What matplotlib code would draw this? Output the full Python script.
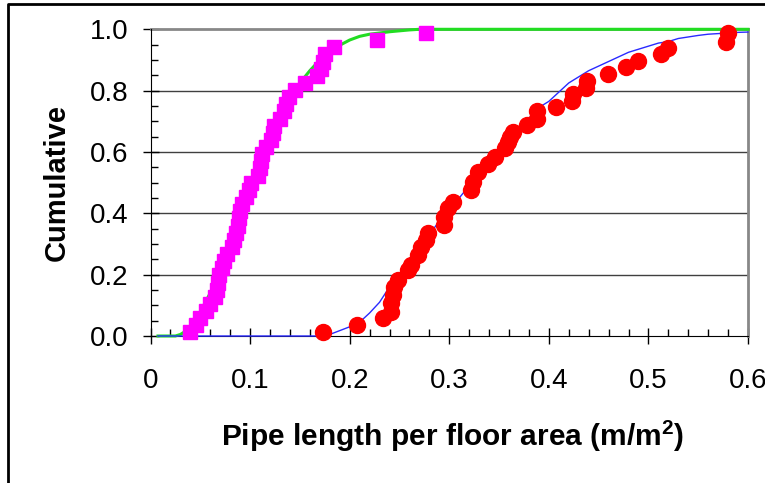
import numpy as np
import matplotlib.pyplot as plt
from matplotlib.lines import Line2D

plt.rcParams['font.family'] = ['Liberation Sans', 'DejaVu Sans']
plt.rcParams['mathtext.fontset'] = 'custom'
plt.rcParams['mathtext.rm'] = 'Liberation Sans'
plt.rcParams['mathtext.bf'] = 'Liberation Sans:bold'

# Magenta squares (first data set), cumulative rank
sq_x = [0.040, 0.046, 0.050, 0.056, 0.060, 0.065, 0.067, 0.068, 0.069, 0.072,
        0.074, 0.077, 0.082, 0.084, 0.086, 0.088, 0.089, 0.090, 0.092, 0.096,
        0.099, 0.101, 0.108, 0.110, 0.111, 0.112, 0.116, 0.121, 0.123, 0.124,
        0.130, 0.134, 0.136, 0.139, 0.145, 0.155, 0.167, 0.171, 0.173, 0.175,
        0.184, 0.227, 0.277]
sq_y = [0.012, 0.035, 0.058, 0.081, 0.105, 0.128, 0.151, 0.174, 0.198, 0.221,
        0.244, 0.267, 0.291, 0.314, 0.337, 0.360, 0.384, 0.407, 0.430, 0.453,
        0.477, 0.500, 0.523, 0.547, 0.570, 0.593, 0.616, 0.640, 0.663, 0.686,
        0.709, 0.733, 0.756, 0.779, 0.802, 0.826, 0.849, 0.872, 0.895, 0.919,
        0.942, 0.965, 0.988]

# Red circles (second data set)
ci_x = [0.173, 0.207, 0.2335, 0.242, 0.242, 0.2435, 0.245, 0.2485, 0.2586, 0.262,
        0.2686, 0.272, 0.277, 0.2787, 0.295, 0.295, 0.2987, 0.304, 0.322, 0.324,
        0.329, 0.339, 0.346, 0.356, 0.359, 0.361, 0.364, 0.378, 0.388, 0.388,
        0.407, 0.423, 0.424, 0.437, 0.438, 0.459, 0.477, 0.490, 0.513, 0.520,
        0.578, 0.580]
ci_y = [0.013, 0.036, 0.058, 0.079, 0.106, 0.134, 0.161, 0.182, 0.215, 0.231,
        0.264, 0.291, 0.313, 0.335, 0.362, 0.389, 0.416, 0.437, 0.475, 0.503,
        0.534, 0.560, 0.583, 0.612, 0.632, 0.648, 0.664, 0.687, 0.707, 0.733,
        0.746, 0.766, 0.790, 0.807, 0.830, 0.853, 0.876, 0.896, 0.920, 0.940,
        0.960, 0.987]

# Green fitted curve (for squares)
green_x = [0.0075, 0.025, 0.030, 0.035, 0.040, 0.045, 0.050, 0.055, 0.060, 0.065,
           0.070, 0.075, 0.080, 0.085, 0.090, 0.095, 0.100, 0.105, 0.110, 0.115,
           0.120, 0.125, 0.130, 0.135, 0.140, 0.150, 0.160, 0.170, 0.180, 0.190,
           0.200, 0.210, 0.220, 0.230, 0.240, 0.250, 0.260, 0.270, 0.600]
green_y = [0.0, 0.0, 0.005, 0.015, 0.030, 0.050, 0.075, 0.110, 0.140, 0.175,
           0.220, 0.260, 0.300, 0.345, 0.390, 0.435, 0.480, 0.520, 0.560, 0.600,
           0.640, 0.680, 0.710, 0.745, 0.775, 0.825, 0.865, 0.900, 0.925, 0.948,
           0.965, 0.977, 0.984, 0.988, 0.992, 0.995, 0.998, 1.0, 1.0]

# Blue fitted curve (for circles)
blue_x = [0.0075, 0.170, 0.180, 0.200, 0.210, 0.220, 0.230, 0.240, 0.250, 0.260,
          0.270, 0.280, 0.290, 0.300, 0.310, 0.320, 0.330, 0.340, 0.350, 0.360,
          0.370, 0.380, 0.390, 0.400, 0.410, 0.420, 0.430, 0.440, 0.450, 0.460,
          0.470, 0.480, 0.490, 0.500, 0.510, 0.520, 0.530, 0.540, 0.550, 0.560,
          0.570, 0.580, 0.590, 0.600]
blue_y = [0.0, 0.0, 0.005, 0.030, 0.045, 0.075, 0.110, 0.160, 0.200, 0.240,
          0.280, 0.330, 0.375, 0.410, 0.450, 0.490, 0.530, 0.570, 0.605, 0.645,
          0.675, 0.710, 0.745, 0.765, 0.795, 0.825, 0.845, 0.865, 0.880, 0.895,
          0.910, 0.925, 0.935, 0.945, 0.955, 0.960, 0.970, 0.975, 0.980, 0.984,
          0.986, 0.988, 0.990, 0.991]

x_ticks = [0, 0.1, 0.2, 0.3, 0.4, 0.5, 0.6]
x_labels = ['0', '0.1', '0.2', '0.3', '0.4', '0.5', '0.6']
y_ticks = [0.0, 0.2, 0.4, 0.6, 0.8, 1.0]
y_labels = ['0.0', '0.2', '0.4', '0.6', '0.8', '1.0']

fig = plt.figure(figsize=(7.65, 4.83), dpi=100)
ax = fig.add_axes([150.5 / 765, 147 / 483, 597.5 / 765, 306.7 / 483])

# gridlines
for yv in y_ticks[1:-1]:
    ax.axhline(yv, color='#404040', lw=1.0, zorder=1)

ax.plot(green_x, green_y, color='#22dd22', lw=2.2, zorder=3, clip_on=False)
ax.plot(blue_x, blue_y, color='#2a2aff', lw=1.0, zorder=3, clip_on=False)
ax.plot(sq_x, sq_y, 's', color='#ff00ff', ms=10, mec='#ff00ff', zorder=4, clip_on=False)
ax.plot(ci_x, ci_y, 'o', color='#ff0000', ms=11.5, mec='#ff0000', zorder=5, clip_on=False)

ax.set_xlim(0, 0.6)
ax.set_ylim(0, 1.0)
ax.set_xticks(x_ticks)
ax.set_xticklabels(x_labels)
ax.set_yticks(y_ticks)
ax.set_yticklabels(y_labels)
ax.set_xticks(np.arange(0, 0.601, 0.02), minor=True)
ax.set_yticks(np.arange(0, 1.001, 0.05), minor=True)
ax.tick_params(which='major', direction='inout', length=12, width=1.0, labelsize=20)
ax.tick_params(axis='x', which='major', pad=17)
ax.tick_params(axis='y', which='major', pad=10)
ax.tick_params(which='minor', direction='in', length=5, width=1.0)

ax.spines['left'].set_color('black')
ax.spines['bottom'].set_color('black')
ax.spines['top'].set_color('#888888')
ax.spines['right'].set_color('#888888')
ax.spines['top'].set_linewidth(2)
ax.spines['right'].set_linewidth(2)
ax.spines['top'].set_zorder(2)

fig.text(453 / 765, 1 - 436 / 483, r'Pipe length per floor area (m/m$^{\mathbf{2}}$)',
         ha='center', va='center', fontsize=21.5, fontweight='bold')
fig.text(57 / 765, 1 - 183 / 483, 'Cumulative', ha='center', va='center',
         rotation=90, fontsize=21, fontweight='bold')

# chart border (only top and left visible)
fig.add_artist(Line2D([8 / 765, 8 / 765, 1.0], [0.0, 1 - 4 / 483, 1 - 4 / 483],
                      transform=fig.transFigure, color='black', lw=2))

fig.savefig('out.png', dpi=100)
